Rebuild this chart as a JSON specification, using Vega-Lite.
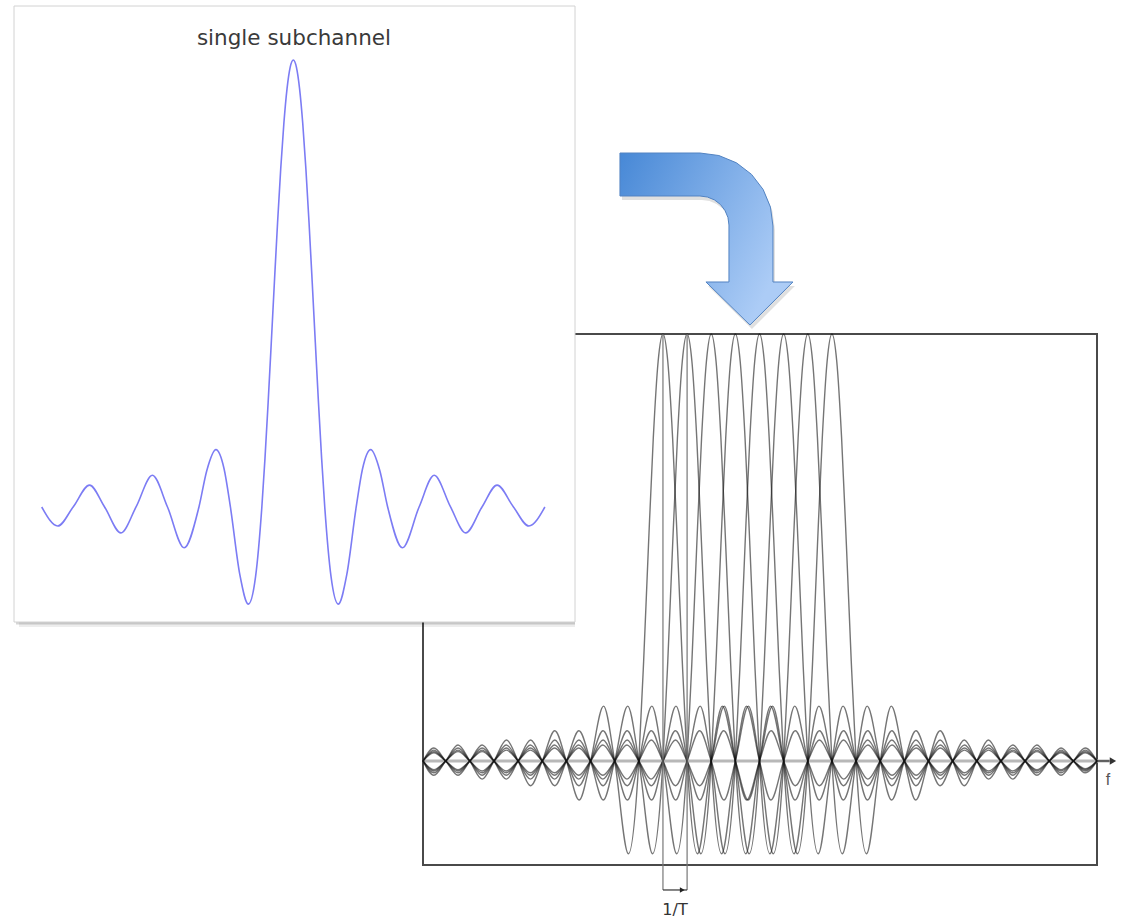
{
"$schema":"https://vega.github.io/schema/vega-lite/v6.json",
"width":1123,"height":921,
"autosize":{"type":"fit","contains":"padding"},
"padding":0,
"background":"white",
"config":{"view":{"stroke":null}},
"resolve":{"scale":{"x":"independent","y":"independent"}},
"layer":[
{
"data":{"values":[{}]},
"layer":[
{"mark":{"type":"rect","filled":false,"stroke":"#4a4a4a","strokeWidth":2},
 "encoding":{"x":{"datum":-9.94,"type":"quantitative","scale":{"domain":[-9.94,17.98],"range":[423,1097],"nice":false,"zero":false},"axis":null},
 "x2":{"datum":17.98},
 "y":{"datum":-0.2436,"type":"quantitative","scale":{"domain":[-0.2436,1],"range":[865,334],"nice":false,"zero":false},"axis":null},
 "y2":{"datum":1}}},
{"mark":{"type":"rule","stroke":"#b8b8b8","strokeWidth":3},
 "encoding":{"x":{"datum":-9.94,"type":"quantitative","scale":{"domain":[-9.94,17.98],"range":[423,1097],"nice":false,"zero":false},"axis":null},
 "x2":{"datum":18.5},
 "y":{"datum":0,"type":"quantitative","scale":{"domain":[-0.2436,1],"range":[865,334],"nice":false,"zero":false},"axis":null}}},
{"mark":{"type":"rule","stroke":"#444444","strokeWidth":1.5},
 "encoding":{"x":{"datum":17.98,"type":"quantitative","scale":{"domain":[-9.94,17.98],"range":[423,1097],"nice":false,"zero":false},"axis":null},
 "x2":{"datum":18.5},
 "y":{"datum":0,"type":"quantitative","scale":{"domain":[-0.2436,1],"range":[865,334],"nice":false,"zero":false},"axis":null}}},
{"data":{"values":[
{"k":0,"f":-9.94,"a":0},{"k":0,"f":-9.49,"a":-0.0335},{"k":0,"f":-9,"a":0},{"k":0,"f":-8.49,"a":0.0375},{"k":0,"f":-8,"a":0},{"k":0,"f":-7.49,"a":-0.0425},{"k":0,"f":-7,"a":0},{"k":0,"f":-6.48,"a":0.049},{"k":0,"f":-6,"a":0},{"k":0,"f":-5.48,"a":-0.058},{"k":0,"f":-5,"a":0},{"k":0,"f":-4.48,"a":0.0709},{"k":0,"f":-4,"a":0},{"k":0,"f":-3.47,"a":-0.0913},{"k":0,"f":-3,"a":0},{"k":0,"f":-2.46,"a":0.1284},{"k":0,"f":-2,"a":0},{"k":0,"f":-1.43,"a":-0.2172},{"k":0,"f":-1,"a":0},
{"k":0,"f":-0.8,"a":0.2339},{"k":0,"f":-0.6,"a":0.5046},{"k":0,"f":-0.4,"a":0.7568},{"k":0,"f":-0.2,"a":0.9355},{"k":0,"f":0,"a":1},{"k":0,"f":0.2,"a":0.9355},{"k":0,"f":0.4,"a":0.7568},{"k":0,"f":0.6,"a":0.5046},{"k":0,"f":0.8,"a":0.2339},
{"k":0,"f":1,"a":0},{"k":0,"f":1.43,"a":-0.2172},{"k":0,"f":2,"a":0},{"k":0,"f":2.46,"a":0.1284},{"k":0,"f":3,"a":0},{"k":0,"f":3.47,"a":-0.0913},{"k":0,"f":4,"a":0},{"k":0,"f":4.48,"a":0.0709},{"k":0,"f":5,"a":0},{"k":0,"f":5.48,"a":-0.058},{"k":0,"f":6,"a":0},{"k":0,"f":6.48,"a":0.049},{"k":0,"f":7,"a":0},{"k":0,"f":7.49,"a":-0.0425},{"k":0,"f":8,"a":0},{"k":0,"f":8.49,"a":0.0375},{"k":0,"f":9,"a":0},{"k":0,"f":9.49,"a":-0.0335},{"k":0,"f":10,"a":0},{"k":0,"f":10.49,"a":0.0303},{"k":0,"f":11,"a":0},{"k":0,"f":11.49,"a":-0.0277},{"k":0,"f":12,"a":0},{"k":0,"f":12.49,"a":0.0255},{"k":0,"f":13,"a":0},{"k":0,"f":13.49,"a":-0.0236},{"k":0,"f":14,"a":0},{"k":0,"f":14.49,"a":0.022},{"k":0,"f":15,"a":0},{"k":0,"f":15.49,"a":-0.0205},{"k":0,"f":16,"a":0},{"k":0,"f":16.49,"a":0.0193},{"k":0,"f":17,"a":0},{"k":0,"f":17.49,"a":-0.0182},{"k":0,"f":17.98,"a":0},

{"k":1,"f":-9.94,"a":0},{"k":1,"f":-9.49,"a":0.0303},{"k":1,"f":-9,"a":0},{"k":1,"f":-8.49,"a":-0.0335},{"k":1,"f":-8,"a":0},{"k":1,"f":-7.49,"a":0.0375},{"k":1,"f":-7,"a":0},{"k":1,"f":-6.49,"a":-0.0425},{"k":1,"f":-6,"a":0},{"k":1,"f":-5.48,"a":0.049},{"k":1,"f":-5,"a":0},{"k":1,"f":-4.48,"a":-0.058},{"k":1,"f":-4,"a":0},{"k":1,"f":-3.48,"a":0.0709},{"k":1,"f":-3,"a":0},{"k":1,"f":-2.47,"a":-0.0913},{"k":1,"f":-2,"a":0},{"k":1,"f":-1.46,"a":0.1284},{"k":1,"f":-1,"a":0},{"k":1,"f":-0.43,"a":-0.2172},{"k":1,"f":0,"a":0},
{"k":1,"f":0.2,"a":0.2339},{"k":1,"f":0.4,"a":0.5046},{"k":1,"f":0.6,"a":0.7568},{"k":1,"f":0.8,"a":0.9355},{"k":1,"f":1,"a":1},{"k":1,"f":1.2,"a":0.9355},{"k":1,"f":1.4,"a":0.7568},{"k":1,"f":1.6,"a":0.5046},{"k":1,"f":1.8,"a":0.2339},
{"k":1,"f":2,"a":0},{"k":1,"f":2.43,"a":-0.2172},{"k":1,"f":3,"a":0},{"k":1,"f":3.46,"a":0.1284},{"k":1,"f":4,"a":0},{"k":1,"f":4.47,"a":-0.0913},{"k":1,"f":5,"a":0},{"k":1,"f":5.48,"a":0.0709},{"k":1,"f":6,"a":0},{"k":1,"f":6.48,"a":-0.058},{"k":1,"f":7,"a":0},{"k":1,"f":7.48,"a":0.049},{"k":1,"f":8,"a":0},{"k":1,"f":8.49,"a":-0.0425},{"k":1,"f":9,"a":0},{"k":1,"f":9.49,"a":0.0375},{"k":1,"f":10,"a":0},{"k":1,"f":10.49,"a":-0.0335},{"k":1,"f":11,"a":0},{"k":1,"f":11.49,"a":0.0303},{"k":1,"f":12,"a":0},{"k":1,"f":12.49,"a":-0.0277},{"k":1,"f":13,"a":0},{"k":1,"f":13.49,"a":0.0255},{"k":1,"f":14,"a":0},{"k":1,"f":14.49,"a":-0.0236},{"k":1,"f":15,"a":0},{"k":1,"f":15.49,"a":0.022},{"k":1,"f":16,"a":0},{"k":1,"f":16.49,"a":-0.0205},{"k":1,"f":17,"a":0},{"k":1,"f":17.49,"a":0.0193},{"k":1,"f":17.98,"a":0},

{"k":2,"f":-9.94,"a":0},{"k":2,"f":-9.49,"a":-0.0277},{"k":2,"f":-9,"a":0},{"k":2,"f":-8.49,"a":0.0303},{"k":2,"f":-8,"a":0},{"k":2,"f":-7.49,"a":-0.0335},{"k":2,"f":-7,"a":0},{"k":2,"f":-6.49,"a":0.0375},{"k":2,"f":-6,"a":0},{"k":2,"f":-5.49,"a":-0.0425},{"k":2,"f":-5,"a":0},{"k":2,"f":-4.48,"a":0.049},{"k":2,"f":-4,"a":0},{"k":2,"f":-3.48,"a":-0.058},{"k":2,"f":-3,"a":0},{"k":2,"f":-2.48,"a":0.0709},{"k":2,"f":-2,"a":0},{"k":2,"f":-1.47,"a":-0.0913},{"k":2,"f":-1,"a":0},{"k":2,"f":-0.46,"a":0.1284},{"k":2,"f":0,"a":0},{"k":2,"f":0.57,"a":-0.2172},{"k":2,"f":1,"a":0},
{"k":2,"f":1.2,"a":0.2339},{"k":2,"f":1.4,"a":0.5046},{"k":2,"f":1.6,"a":0.7568},{"k":2,"f":1.8,"a":0.9355},{"k":2,"f":2,"a":1},{"k":2,"f":2.2,"a":0.9355},{"k":2,"f":2.4,"a":0.7568},{"k":2,"f":2.6,"a":0.5046},{"k":2,"f":2.8,"a":0.2339},
{"k":2,"f":3,"a":0},{"k":2,"f":3.43,"a":-0.2172},{"k":2,"f":4,"a":0},{"k":2,"f":4.46,"a":0.1284},{"k":2,"f":5,"a":0},{"k":2,"f":5.47,"a":-0.0913},{"k":2,"f":6,"a":0},{"k":2,"f":6.48,"a":0.0709},{"k":2,"f":7,"a":0},{"k":2,"f":7.48,"a":-0.058},{"k":2,"f":8,"a":0},{"k":2,"f":8.48,"a":0.049},{"k":2,"f":9,"a":0},{"k":2,"f":9.49,"a":-0.0425},{"k":2,"f":10,"a":0},{"k":2,"f":10.49,"a":0.0375},{"k":2,"f":11,"a":0},{"k":2,"f":11.49,"a":-0.0335},{"k":2,"f":12,"a":0},{"k":2,"f":12.49,"a":0.0303},{"k":2,"f":13,"a":0},{"k":2,"f":13.49,"a":-0.0277},{"k":2,"f":14,"a":0},{"k":2,"f":14.49,"a":0.0255},{"k":2,"f":15,"a":0},{"k":2,"f":15.49,"a":-0.0236},{"k":2,"f":16,"a":0},{"k":2,"f":16.49,"a":0.022},{"k":2,"f":17,"a":0},{"k":2,"f":17.49,"a":-0.0205},{"k":2,"f":17.98,"a":0},

{"k":3,"f":-9.94,"a":0},{"k":3,"f":-9.49,"a":0.0255},{"k":3,"f":-9,"a":0},{"k":3,"f":-8.49,"a":-0.0277},{"k":3,"f":-8,"a":0},{"k":3,"f":-7.49,"a":0.0303},{"k":3,"f":-7,"a":0},{"k":3,"f":-6.49,"a":-0.0335},{"k":3,"f":-6,"a":0},{"k":3,"f":-5.49,"a":0.0375},{"k":3,"f":-5,"a":0},{"k":3,"f":-4.49,"a":-0.0425},{"k":3,"f":-4,"a":0},{"k":3,"f":-3.48,"a":0.049},{"k":3,"f":-3,"a":0},{"k":3,"f":-2.48,"a":-0.058},{"k":3,"f":-2,"a":0},{"k":3,"f":-1.48,"a":0.0709},{"k":3,"f":-1,"a":0},{"k":3,"f":-0.47,"a":-0.0913},{"k":3,"f":0,"a":0},{"k":3,"f":0.54,"a":0.1284},{"k":3,"f":1,"a":0},{"k":3,"f":1.57,"a":-0.2172},{"k":3,"f":2,"a":0},
{"k":3,"f":2.2,"a":0.2339},{"k":3,"f":2.4,"a":0.5046},{"k":3,"f":2.6,"a":0.7568},{"k":3,"f":2.8,"a":0.9355},{"k":3,"f":3,"a":1},{"k":3,"f":3.2,"a":0.9355},{"k":3,"f":3.4,"a":0.7568},{"k":3,"f":3.6,"a":0.5046},{"k":3,"f":3.8,"a":0.2339},
{"k":3,"f":4,"a":0},{"k":3,"f":4.43,"a":-0.2172},{"k":3,"f":5,"a":0},{"k":3,"f":5.46,"a":0.1284},{"k":3,"f":6,"a":0},{"k":3,"f":6.47,"a":-0.0913},{"k":3,"f":7,"a":0},{"k":3,"f":7.48,"a":0.0709},{"k":3,"f":8,"a":0},{"k":3,"f":8.48,"a":-0.058},{"k":3,"f":9,"a":0},{"k":3,"f":9.48,"a":0.049},{"k":3,"f":10,"a":0},{"k":3,"f":10.49,"a":-0.0425},{"k":3,"f":11,"a":0},{"k":3,"f":11.49,"a":0.0375},{"k":3,"f":12,"a":0},{"k":3,"f":12.49,"a":-0.0335},{"k":3,"f":13,"a":0},{"k":3,"f":13.49,"a":0.0303},{"k":3,"f":14,"a":0},{"k":3,"f":14.49,"a":-0.0277},{"k":3,"f":15,"a":0},{"k":3,"f":15.49,"a":0.0255},{"k":3,"f":16,"a":0},{"k":3,"f":16.49,"a":-0.0236},{"k":3,"f":17,"a":0},{"k":3,"f":17.49,"a":0.022},{"k":3,"f":17.98,"a":0},

{"k":4,"f":-9.94,"a":0},{"k":4,"f":-9.49,"a":-0.0236},{"k":4,"f":-9,"a":0},{"k":4,"f":-8.49,"a":0.0255},{"k":4,"f":-8,"a":0},{"k":4,"f":-7.49,"a":-0.0277},{"k":4,"f":-7,"a":0},{"k":4,"f":-6.49,"a":0.0303},{"k":4,"f":-6,"a":0},{"k":4,"f":-5.49,"a":-0.0335},{"k":4,"f":-5,"a":0},{"k":4,"f":-4.49,"a":0.0375},{"k":4,"f":-4,"a":0},{"k":4,"f":-3.49,"a":-0.0425},{"k":4,"f":-3,"a":0},{"k":4,"f":-2.48,"a":0.049},{"k":4,"f":-2,"a":0},{"k":4,"f":-1.48,"a":-0.058},{"k":4,"f":-1,"a":0},{"k":4,"f":-0.48,"a":0.0709},{"k":4,"f":0,"a":0},{"k":4,"f":0.53,"a":-0.0913},{"k":4,"f":1,"a":0},{"k":4,"f":1.54,"a":0.1284},{"k":4,"f":2,"a":0},{"k":4,"f":2.57,"a":-0.2172},{"k":4,"f":3,"a":0},
{"k":4,"f":3.2,"a":0.2339},{"k":4,"f":3.4,"a":0.5046},{"k":4,"f":3.6,"a":0.7568},{"k":4,"f":3.8,"a":0.9355},{"k":4,"f":4,"a":1},{"k":4,"f":4.2,"a":0.9355},{"k":4,"f":4.4,"a":0.7568},{"k":4,"f":4.6,"a":0.5046},{"k":4,"f":4.8,"a":0.2339},
{"k":4,"f":5,"a":0},{"k":4,"f":5.43,"a":-0.2172},{"k":4,"f":6,"a":0},{"k":4,"f":6.46,"a":0.1284},{"k":4,"f":7,"a":0},{"k":4,"f":7.47,"a":-0.0913},{"k":4,"f":8,"a":0},{"k":4,"f":8.48,"a":0.0709},{"k":4,"f":9,"a":0},{"k":4,"f":9.48,"a":-0.058},{"k":4,"f":10,"a":0},{"k":4,"f":10.48,"a":0.049},{"k":4,"f":11,"a":0},{"k":4,"f":11.49,"a":-0.0425},{"k":4,"f":12,"a":0},{"k":4,"f":12.49,"a":0.0375},{"k":4,"f":13,"a":0},{"k":4,"f":13.49,"a":-0.0335},{"k":4,"f":14,"a":0},{"k":4,"f":14.49,"a":0.0303},{"k":4,"f":15,"a":0},{"k":4,"f":15.49,"a":-0.0277},{"k":4,"f":16,"a":0},{"k":4,"f":16.49,"a":0.0255},{"k":4,"f":17,"a":0},{"k":4,"f":17.49,"a":-0.0236},{"k":4,"f":17.98,"a":0},

{"k":5,"f":-9.94,"a":0},{"k":5,"f":-9.49,"a":0.022},{"k":5,"f":-9,"a":0},{"k":5,"f":-8.49,"a":-0.0236},{"k":5,"f":-8,"a":0},{"k":5,"f":-7.49,"a":0.0255},{"k":5,"f":-7,"a":0},{"k":5,"f":-6.49,"a":-0.0277},{"k":5,"f":-6,"a":0},{"k":5,"f":-5.49,"a":0.0303},{"k":5,"f":-5,"a":0},{"k":5,"f":-4.49,"a":-0.0335},{"k":5,"f":-4,"a":0},{"k":5,"f":-3.49,"a":0.0375},{"k":5,"f":-3,"a":0},{"k":5,"f":-2.49,"a":-0.0425},{"k":5,"f":-2,"a":0},{"k":5,"f":-1.48,"a":0.049},{"k":5,"f":-1,"a":0},{"k":5,"f":-0.48,"a":-0.058},{"k":5,"f":0,"a":0},{"k":5,"f":0.52,"a":0.0709},{"k":5,"f":1,"a":0},{"k":5,"f":1.53,"a":-0.0913},{"k":5,"f":2,"a":0},{"k":5,"f":2.54,"a":0.1284},{"k":5,"f":3,"a":0},{"k":5,"f":3.57,"a":-0.2172},{"k":5,"f":4,"a":0},
{"k":5,"f":4.2,"a":0.2339},{"k":5,"f":4.4,"a":0.5046},{"k":5,"f":4.6,"a":0.7568},{"k":5,"f":4.8,"a":0.9355},{"k":5,"f":5,"a":1},{"k":5,"f":5.2,"a":0.9355},{"k":5,"f":5.4,"a":0.7568},{"k":5,"f":5.6,"a":0.5046},{"k":5,"f":5.8,"a":0.2339},
{"k":5,"f":6,"a":0},{"k":5,"f":6.43,"a":-0.2172},{"k":5,"f":7,"a":0},{"k":5,"f":7.46,"a":0.1284},{"k":5,"f":8,"a":0},{"k":5,"f":8.47,"a":-0.0913},{"k":5,"f":9,"a":0},{"k":5,"f":9.48,"a":0.0709},{"k":5,"f":10,"a":0},{"k":5,"f":10.48,"a":-0.058},{"k":5,"f":11,"a":0},{"k":5,"f":11.48,"a":0.049},{"k":5,"f":12,"a":0},{"k":5,"f":12.49,"a":-0.0425},{"k":5,"f":13,"a":0},{"k":5,"f":13.49,"a":0.0375},{"k":5,"f":14,"a":0},{"k":5,"f":14.49,"a":-0.0335},{"k":5,"f":15,"a":0},{"k":5,"f":15.49,"a":0.0303},{"k":5,"f":16,"a":0},{"k":5,"f":16.49,"a":-0.0277},{"k":5,"f":17,"a":0},{"k":5,"f":17.49,"a":0.0255},{"k":5,"f":17.98,"a":0},

{"k":6,"f":-9.94,"a":0},{"k":6,"f":-9.49,"a":-0.0205},{"k":6,"f":-9,"a":0},{"k":6,"f":-8.49,"a":0.022},{"k":6,"f":-8,"a":0},{"k":6,"f":-7.49,"a":-0.0236},{"k":6,"f":-7,"a":0},{"k":6,"f":-6.49,"a":0.0255},{"k":6,"f":-6,"a":0},{"k":6,"f":-5.49,"a":-0.0277},{"k":6,"f":-5,"a":0},{"k":6,"f":-4.49,"a":0.0303},{"k":6,"f":-4,"a":0},{"k":6,"f":-3.49,"a":-0.0335},{"k":6,"f":-3,"a":0},{"k":6,"f":-2.49,"a":0.0375},{"k":6,"f":-2,"a":0},{"k":6,"f":-1.49,"a":-0.0425},{"k":6,"f":-1,"a":0},{"k":6,"f":-0.48,"a":0.049},{"k":6,"f":0,"a":0},{"k":6,"f":0.52,"a":-0.058},{"k":6,"f":1,"a":0},{"k":6,"f":1.52,"a":0.0709},{"k":6,"f":2,"a":0},{"k":6,"f":2.53,"a":-0.0913},{"k":6,"f":3,"a":0},{"k":6,"f":3.54,"a":0.1284},{"k":6,"f":4,"a":0},{"k":6,"f":4.57,"a":-0.2172},{"k":6,"f":5,"a":0},
{"k":6,"f":5.2,"a":0.2339},{"k":6,"f":5.4,"a":0.5046},{"k":6,"f":5.6,"a":0.7568},{"k":6,"f":5.8,"a":0.9355},{"k":6,"f":6,"a":1},{"k":6,"f":6.2,"a":0.9355},{"k":6,"f":6.4,"a":0.7568},{"k":6,"f":6.6,"a":0.5046},{"k":6,"f":6.8,"a":0.2339},
{"k":6,"f":7,"a":0},{"k":6,"f":7.43,"a":-0.2172},{"k":6,"f":8,"a":0},{"k":6,"f":8.46,"a":0.1284},{"k":6,"f":9,"a":0},{"k":6,"f":9.47,"a":-0.0913},{"k":6,"f":10,"a":0},{"k":6,"f":10.48,"a":0.0709},{"k":6,"f":11,"a":0},{"k":6,"f":11.48,"a":-0.058},{"k":6,"f":12,"a":0},{"k":6,"f":12.48,"a":0.049},{"k":6,"f":13,"a":0},{"k":6,"f":13.49,"a":-0.0425},{"k":6,"f":14,"a":0},{"k":6,"f":14.49,"a":0.0375},{"k":6,"f":15,"a":0},{"k":6,"f":15.49,"a":-0.0335},{"k":6,"f":16,"a":0},{"k":6,"f":16.49,"a":0.0303},{"k":6,"f":17,"a":0},{"k":6,"f":17.49,"a":-0.0277},{"k":6,"f":17.98,"a":0},

{"k":7,"f":-9.94,"a":0},{"k":7,"f":-9.49,"a":0.0193},{"k":7,"f":-9,"a":0},{"k":7,"f":-8.49,"a":-0.0205},{"k":7,"f":-8,"a":0},{"k":7,"f":-7.49,"a":0.022},{"k":7,"f":-7,"a":0},{"k":7,"f":-6.49,"a":-0.0236},{"k":7,"f":-6,"a":0},{"k":7,"f":-5.49,"a":0.0255},{"k":7,"f":-5,"a":0},{"k":7,"f":-4.49,"a":-0.0277},{"k":7,"f":-4,"a":0},{"k":7,"f":-3.49,"a":0.0303},{"k":7,"f":-3,"a":0},{"k":7,"f":-2.49,"a":-0.0335},{"k":7,"f":-2,"a":0},{"k":7,"f":-1.49,"a":0.0375},{"k":7,"f":-1,"a":0},{"k":7,"f":-0.49,"a":-0.0425},{"k":7,"f":0,"a":0},{"k":7,"f":0.52,"a":0.049},{"k":7,"f":1,"a":0},{"k":7,"f":1.52,"a":-0.058},{"k":7,"f":2,"a":0},{"k":7,"f":2.52,"a":0.0709},{"k":7,"f":3,"a":0},{"k":7,"f":3.53,"a":-0.0913},{"k":7,"f":4,"a":0},{"k":7,"f":4.54,"a":0.1284},{"k":7,"f":5,"a":0},{"k":7,"f":5.57,"a":-0.2172},{"k":7,"f":6,"a":0},
{"k":7,"f":6.2,"a":0.2339},{"k":7,"f":6.4,"a":0.5046},{"k":7,"f":6.6,"a":0.7568},{"k":7,"f":6.8,"a":0.9355},{"k":7,"f":7,"a":1},{"k":7,"f":7.2,"a":0.9355},{"k":7,"f":7.4,"a":0.7568},{"k":7,"f":7.6,"a":0.5046},{"k":7,"f":7.8,"a":0.2339},
{"k":7,"f":8,"a":0},{"k":7,"f":8.43,"a":-0.2172},{"k":7,"f":9,"a":0},{"k":7,"f":9.46,"a":0.1284},{"k":7,"f":10,"a":0},{"k":7,"f":10.47,"a":-0.0913},{"k":7,"f":11,"a":0},{"k":7,"f":11.48,"a":0.0709},{"k":7,"f":12,"a":0},{"k":7,"f":12.48,"a":-0.058},{"k":7,"f":13,"a":0},{"k":7,"f":13.48,"a":0.049},{"k":7,"f":14,"a":0},{"k":7,"f":14.49,"a":-0.0425},{"k":7,"f":15,"a":0},{"k":7,"f":15.49,"a":0.0375},{"k":7,"f":16,"a":0},{"k":7,"f":16.49,"a":-0.0335},{"k":7,"f":17,"a":0},{"k":7,"f":17.49,"a":0.0303},{"k":7,"f":17.98,"a":0}
]},
 "mark":{"type":"line","interpolate":"monotone","stroke":"#111111","strokeWidth":1.4,"opacity":0.58},
 "encoding":{"x":{"field":"f","type":"quantitative","scale":{"domain":[-9.94,17.98],"range":[423,1097],"nice":false,"zero":false},"axis":null},
 "y":{"field":"a","type":"quantitative","scale":{"domain":[-0.2436,1],"range":[865,334],"nice":false,"zero":false},"axis":null},
 "detail":{"field":"k","type":"nominal"}}},
{"data":{"values":[{"f":0},{"f":1}]},
 "mark":{"type":"rule","stroke":"#777777","strokeWidth":1.2},
 "encoding":{"x":{"field":"f","type":"quantitative","scale":{"domain":[-9.94,17.98],"range":[423,1097],"nice":false,"zero":false},"axis":null},
 "y":{"datum":1,"type":"quantitative","scale":{"domain":[-0.2436,1],"range":[865,334],"nice":false,"zero":false},"axis":null},
 "y2":{"datum":-0.3021}}},
{"mark":{"type":"rule","stroke":"#333333","strokeWidth":1.2},
 "encoding":{"x":{"datum":0,"type":"quantitative","scale":{"domain":[-9.94,17.98],"range":[423,1097],"nice":false,"zero":false},"axis":null},
 "x2":{"datum":1},
 "y":{"datum":-0.3021,"type":"quantitative","scale":{"domain":[-0.2436,1],"range":[865,334],"nice":false,"zero":false},"axis":null}}},
{"mark":{"type":"point","shape":"triangle-right","filled":true,"size":30,"color":"#222222","opacity":1},
 "encoding":{"x":{"datum":0.8,"type":"quantitative","scale":{"domain":[-9.94,17.98],"range":[423,1097],"nice":false,"zero":false},"axis":null},
 "y":{"datum":-0.3021,"type":"quantitative","scale":{"domain":[-0.2436,1],"range":[865,334],"nice":false,"zero":false},"axis":null}}},
{"mark":{"type":"point","shape":"triangle-right","filled":true,"size":55,"color":"#333333","opacity":1},
 "encoding":{"x":{"datum":18.64,"type":"quantitative","scale":{"domain":[-9.94,17.98],"range":[423,1097],"nice":false,"zero":false},"axis":null},
 "y":{"datum":0,"type":"quantitative","scale":{"domain":[-0.2436,1],"range":[865,334],"nice":false,"zero":false},"axis":null}}},
{"mark":{"type":"text","text":"f","font":"Liberation Sans","fontSize":16,"color":"#555555","align":"center","baseline":"middle"},
 "encoding":{"x":{"datum":18.43,"type":"quantitative","scale":{"domain":[-9.94,17.98],"range":[423,1097],"nice":false,"zero":false},"axis":null},
 "y":{"datum":-0.0445,"type":"quantitative","scale":{"domain":[-0.2436,1],"range":[865,334],"nice":false,"zero":false},"axis":null}}},
{"mark":{"type":"text","text":"1/T","font":"DejaVu Sans","fontSize":16,"color":"#333333","align":"center","baseline":"middle"},
 "encoding":{"x":{"datum":0.5,"type":"quantitative","scale":{"domain":[-9.94,17.98],"range":[423,1097],"nice":false,"zero":false},"axis":null},
 "y":{"datum":-0.349,"type":"quantitative","scale":{"domain":[-0.2436,1],"range":[865,334],"nice":false,"zero":false},"axis":null}}},
{"data":{"name":"arrow","values":[
{"i":1,"f":-1.781,"a":1.4239},{"i":2,"f":1.533,"a":1.4239},{"i":3,"f":2.316,"a":1.418},{"i":4,"f":3.045,"a":1.4009},{"i":5,"f":3.67,"a":1.3738},{"i":6,"f":4.151,"a":1.3384},{"i":7,"f":4.453,"a":1.2972},{"i":8,"f":4.557,"a":1.2529},{"i":9,"f":4.557,"a":1.1218},{"i":10,"f":5.385,"a":1.1218},{"i":11,"f":3.604,"a":1.0211},{"i":12,"f":1.781,"a":1.1218},{"i":13,"f":2.734,"a":1.1218},{"i":14,"f":2.734,"a":1.2553},{"i":15,"f":2.693,"a":1.2728},{"i":16,"f":2.572,"a":1.2892},{"i":17,"f":2.382,"a":1.3033},{"i":18,"f":2.133,"a":1.3141},{"i":19,"f":1.843,"a":1.3208},{"i":20,"f":1.533,"a":1.3232},{"i":21,"f":-1.781,"a":1.3232}
]},
 "layer":[
 {"mark":{"type":"line","interpolate":"linear-closed","fill":"#000000","fillOpacity":0.12,"stroke":null,"strokeWidth":0,"xOffset":2,"yOffset":4},
  "encoding":{"x":{"field":"f","type":"quantitative","scale":{"domain":[-9.94,17.98],"range":[423,1097],"nice":false,"zero":false},"axis":null},
  "y":{"field":"a","type":"quantitative","scale":{"domain":[-0.2436,1],"range":[865,334],"nice":false,"zero":false},"axis":null},
  "order":{"field":"i","type":"quantitative"}}},
 {"mark":{"type":"line","interpolate":"linear-closed","fill":{"gradient":"linear","x1":0,"y1":0,"x2":1,"y2":0.5,"stops":[{"offset":0,"color":"#4788d6"},{"offset":1,"color":"#acccf6"}]},"stroke":"#5283c2","strokeWidth":1},
  "encoding":{"x":{"field":"f","type":"quantitative","scale":{"domain":[-9.94,17.98],"range":[423,1097],"nice":false,"zero":false},"axis":null},
  "y":{"field":"a","type":"quantitative","scale":{"domain":[-0.2436,1],"range":[865,334],"nice":false,"zero":false},"axis":null},
  "order":{"field":"i","type":"quantitative"}}}
 ]}
]
},
{
"data":{"values":[{}]},
"layer":[
{"mark":{"type":"rect","fill":"#000000","opacity":0.07,"xOffset":5,"yOffset":5},
 "encoding":{"x":{"datum":-8.881,"type":"quantitative","scale":{"domain":[-8.881,8.957],"range":[14,575],"nice":false,"zero":false},"axis":null},
 "x2":{"datum":8.957},
 "y":{"datum":-0.2573,"type":"quantitative","scale":{"domain":[-0.2573,1.1208],"range":[622,6],"nice":false,"zero":false},"axis":null},
 "y2":{"datum":1.1208}}},
{"mark":{"type":"rect","fill":"#000000","opacity":0.16,"xOffset":2,"yOffset":2.5},
 "encoding":{"x":{"datum":-8.881,"type":"quantitative","scale":{"domain":[-8.881,8.957],"range":[14,575],"nice":false,"zero":false},"axis":null},
 "x2":{"datum":8.957},
 "y":{"datum":-0.2573,"type":"quantitative","scale":{"domain":[-0.2573,1.1208],"range":[622,6],"nice":false,"zero":false},"axis":null},
 "y2":{"datum":1.1208}}},
{"mark":{"type":"rect","fill":"#ffffff","stroke":"#d2d2d2","strokeWidth":1,"opacity":1},
 "encoding":{"x":{"datum":-8.881,"type":"quantitative","scale":{"domain":[-8.881,8.957],"range":[14,575],"nice":false,"zero":false},"axis":null},
 "x2":{"datum":8.957},
 "y":{"datum":-0.2573,"type":"quantitative","scale":{"domain":[-0.2573,1.1208],"range":[622,6],"nice":false,"zero":false},"axis":null},
 "y2":{"datum":1.1208}}},
{"data":{"values":[
{"t":-8,"a":0},{"t":-7.49,"a":-0.0425},{"t":-7,"a":0},{"t":-6.48,"a":0.049},{"t":-6,"a":0},{"t":-5.48,"a":-0.058},{"t":-5,"a":0},{"t":-4.48,"a":0.0709},{"t":-4,"a":0},{"t":-3.47,"a":-0.0913},{"t":-3,"a":0},{"t":-2.75,"a":0.0818},{"t":-2.46,"a":0.1284},{"t":-2.2,"a":0.085},{"t":-2,"a":0},{"t":-1.7,"a":-0.1515},{"t":-1.43,"a":-0.2172},{"t":-1.2,"a":-0.1559},{"t":-1,"a":0},
{"t":-0.9,"a":0.1093},{"t":-0.8,"a":0.2339},{"t":-0.7,"a":0.3679},{"t":-0.6,"a":0.5046},{"t":-0.5,"a":0.6366},{"t":-0.4,"a":0.7568},{"t":-0.3,"a":0.8584},{"t":-0.2,"a":0.9355},{"t":-0.1,"a":0.9836},{"t":0,"a":1},
{"t":0.1,"a":0.9836},{"t":0.2,"a":0.9355},{"t":0.3,"a":0.8584},{"t":0.4,"a":0.7568},{"t":0.5,"a":0.6366},{"t":0.6,"a":0.5046},{"t":0.7,"a":0.3679},{"t":0.8,"a":0.2339},{"t":0.9,"a":0.1093},
{"t":1,"a":0},{"t":1.2,"a":-0.1559},{"t":1.43,"a":-0.2172},{"t":1.7,"a":-0.1515},{"t":2,"a":0},{"t":2.2,"a":0.085},{"t":2.46,"a":0.1284},{"t":2.75,"a":0.0818},{"t":3,"a":0},{"t":3.47,"a":-0.0913},{"t":4,"a":0},{"t":4.48,"a":0.0709},{"t":5,"a":0},{"t":5.48,"a":-0.058},{"t":6,"a":0},{"t":6.48,"a":0.049},{"t":7,"a":0},{"t":7.49,"a":-0.0425},{"t":8,"a":0}
]},
 "mark":{"type":"line","interpolate":"monotone","stroke":"#7c7cf4","strokeWidth":1.6},
 "encoding":{"x":{"field":"t","type":"quantitative","scale":{"domain":[-8.881,8.957],"range":[14,575],"nice":false,"zero":false},"axis":null},
 "y":{"field":"a","type":"quantitative","scale":{"domain":[-0.2573,1.1208],"range":[622,6],"nice":false,"zero":false},"axis":null}}},
{"mark":{"type":"text","text":"single subchannel","font":"DejaVu Sans","fontSize":21.5,"color":"#3a3a3a","align":"center","baseline":"alphabetic"},
 "encoding":{"x":{"datum":0.02,"type":"quantitative","scale":{"domain":[-8.881,8.957],"range":[14,575],"nice":false,"zero":false},"axis":null},
 "y":{"datum":1.0336,"type":"quantitative","scale":{"domain":[-0.2573,1.1208],"range":[622,6],"nice":false,"zero":false},"axis":null}}}
]
}
]
}
